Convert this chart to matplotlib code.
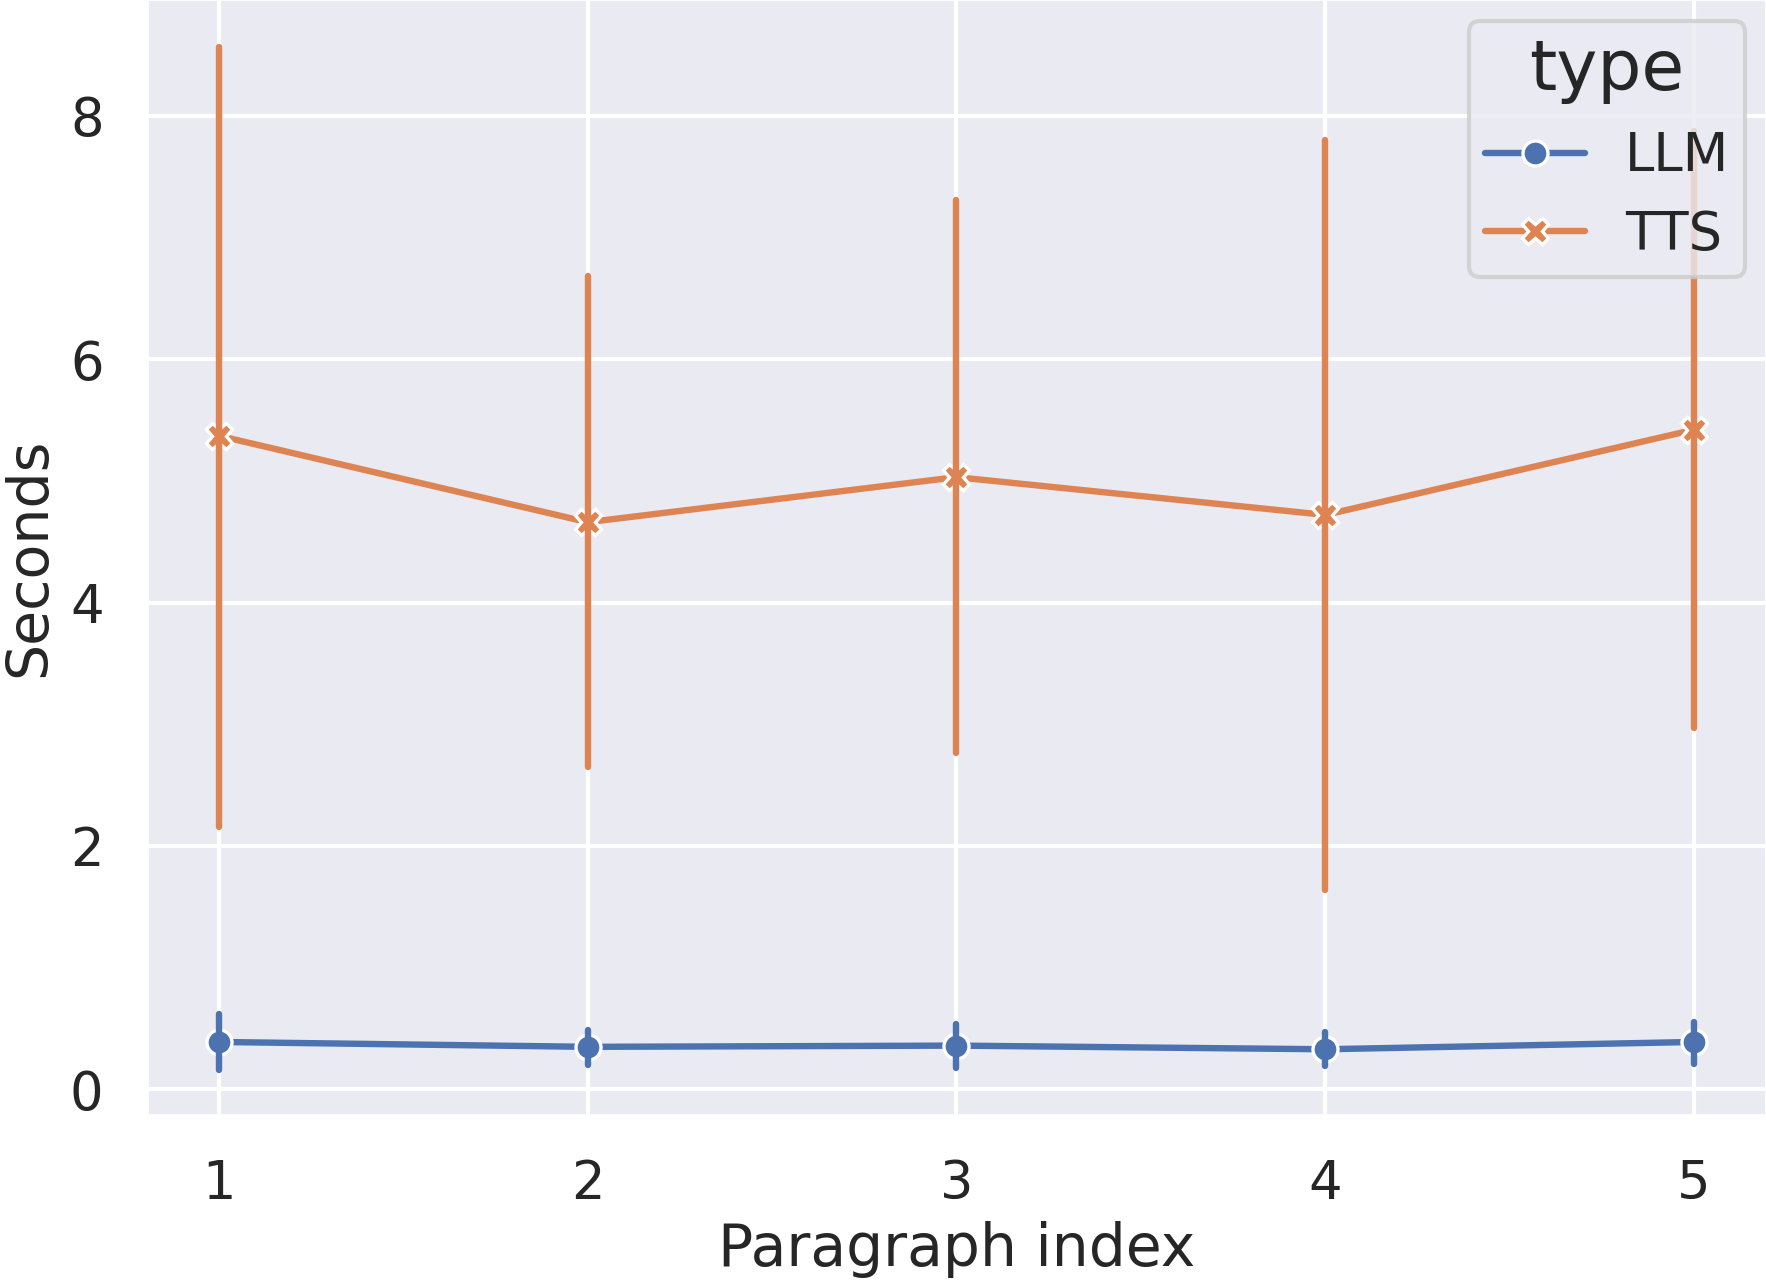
import matplotlib
matplotlib.use("Agg")
import matplotlib.pyplot as plt
import seaborn as sns

paragraph = [1, 2, 3, 4, 5]
llm_mean = [0.39, 0.35, 0.36, 0.33, 0.39]
llm_low = [0.16, 0.20, 0.18, 0.19, 0.21]
llm_high = [0.62, 0.49, 0.54, 0.47, 0.55]
tts_mean = [5.37, 4.66, 5.03, 4.72, 5.42]
tts_low = [2.16, 2.65, 2.76, 1.64, 2.97]
tts_high = [8.56, 6.68, 7.31, 7.80, 7.87]

sns.set_theme(style="darkgrid")
plt.rcParams['font.family'] = ['DejaVu Sans']
pal = sns.color_palette("deep")

fig = plt.figure(figsize=(17.66, 12.81), dpi=100)
ax = fig.add_axes([148 / 1766, 166 / 1281, 1 - 148 / 1766, 1 - 166 / 1281])

series = [("LLM", llm_mean, llm_low, llm_high, "o", 18, pal[0]),
          ("TTS", tts_mean, tts_low, tts_high, "X", 19, pal[1])]
for name, mean, low, high, mk, ms, col in series:
    ax.plot(paragraph, mean, color=col, lw=4.6, marker=mk, ms=ms,
            mec="white", mew=2.4, label=name, zorder=3)
    ax.vlines(paragraph, low, high, color=col, lw=4.6, capstyle="round", zorder=4)

ax.set_xlim(0.808, 5.195)
ax.set_ylim(-0.21, 8.95)
ax.set_xticks(paragraph)
ax.set_yticks([0, 2, 4, 6, 8])
ax.grid(color="white", lw=3)
ax.tick_params(axis="x", labelsize=38, pad=25)
ax.tick_params(axis="y", labelsize=38, pad=26)
ax.set_xlabel("Paragraph index", fontsize=42, labelpad=8)
ax.set_ylabel("Seconds", fontsize=41, labelpad=9)

leg = ax.legend(title="type", loc="upper right", fontsize=38, title_fontsize=50,
                frameon=True, borderaxespad=0.4, handlelength=1.9,
                handletextpad=0.75, borderpad=0.3)
leg.get_frame().set_edgecolor("0.8")
leg.get_frame().set_linewidth(3)

fig.savefig("out.png", dpi=100)
